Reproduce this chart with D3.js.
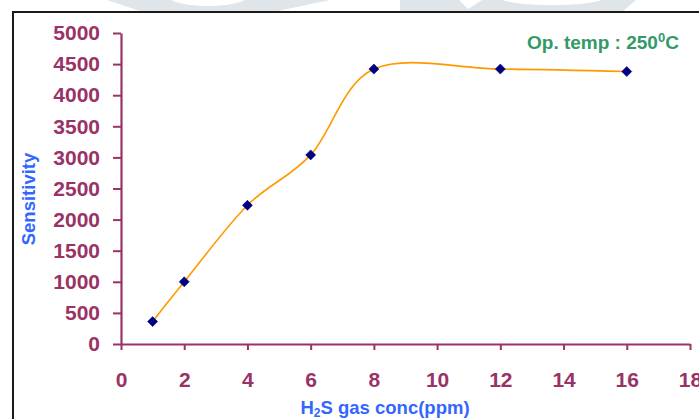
<!DOCTYPE html>
<html>
<head>
<meta charset="utf-8">
<script src="https://cdn.jsdelivr.net/npm/d3@7"></script>
<style>
  html, body { margin: 0; padding: 0; background: #fff; }
  svg { display: block; font-family: "Liberation Sans", Arial, sans-serif; }
</style>
</head>
<body>
<svg id="chart" width="699" height="419"></svg>
<script>
// Data
const concPpm = [1, 2, 4, 6, 8, 12, 16];
const sensitivity = [360, 1000, 2230, 3040, 4420, 4420, 4380];
const xTicks = [0, 2, 4, 6, 8, 10, 12, 14, 16, 18];
const yTicks = [0, 500, 1000, 1500, 2000, 2500, 3000, 3500, 4000, 4500, 5000];

const svg = d3.select("#chart");
const axisColor = "#993366";

// faint watermark at top
const wm = svg.append("g").attr("fill", "#dfe5e9");
wm.append("path").attr("d", "M107,0 L330,0 L273,12 L143,12 Z");
wm.append("ellipse").attr("cx", 208).attr("cy", -4).attr("rx", 40).attr("ry", 10).attr("fill", "#fff");
wm.append("path").attr("d", "M400,0 L636,0 L622,12 L400,12 Z");
wm.append("path").attr("d", "M459,0 L482,0 L468,9 Z").attr("fill", "#fff");
wm.append("ellipse").attr("cx", 552).attr("cy", -3).attr("rx", 54).attr("ry", 8).attr("fill", "#fff");

// outer frame
svg.append("rect")
  .attr("x", 13).attr("y", 12).attr("width", 720).attr("height", 430)
  .attr("fill", "#fff").attr("stroke", "#1a1a1a").attr("stroke-width", 2);

const x = d3.scaleLinear().domain([0, 18]).range([121, 690]);
const y = d3.scaleLinear().domain([0, 5000]).range([344, 33]);

// Y axis
const gy = svg.append("g").attr("transform", "translate(121,0)")
  .call(d3.axisLeft(y).tickValues(yTicks).tickFormat(d3.format("d"))
    .tickSize(8).tickSizeOuter(0).tickPadding(13));
// X axis
const gx = svg.append("g").attr("transform", "translate(0,344)")
  .call(d3.axisBottom(x).tickValues(xTicks).tickFormat(d3.format("d"))
    .tickSize(6).tickSizeOuter(0).tickPadding(22));

[gx, gy].forEach(g => {
  g.select(".domain").attr("stroke", axisColor).attr("stroke-width", 2.2);
  g.selectAll(".tick line").attr("stroke", axisColor).attr("stroke-width", 2);
  g.selectAll(".tick text")
    .attr("fill", axisColor)
    .attr("font-size", 21)
    .attr("font-weight", "bold")
    .attr("font-family", "'Liberation Sans', Arial, sans-serif");
});

// smoothed line (Excel-like smoothing)
const line = d3.line()
  .x((d, i) => x(concPpm[i]))
  .y(d => y(d))
  .curve(d3.curveCatmullRom.alpha(0));
svg.append("path")
  .datum(sensitivity)
  .attr("d", line)
  .attr("fill", "none")
  .attr("stroke", "#FF9900")
  .attr("stroke-width", 1.6);

// diamond markers
svg.append("g").selectAll("path")
  .data(sensitivity)
  .join("path")
  .attr("transform", (d, i) => `translate(${x(concPpm[i])},${y(d)})`)
  .attr("d", "M0,-5 L5,0 L0,5 L-5,0 Z")
  .attr("fill", "#000080")
  .attr("stroke", "#000080")
  .attr("stroke-width", 0.6);

// Axis titles
svg.append("text")
  .attr("transform", "translate(35,199) rotate(-90)")
  .attr("text-anchor", "middle")
  .attr("fill", "#3366FF")
  .attr("font-size", 18.5)
  .attr("font-weight", "bold")
  .text("Sensitivity");

const xt = svg.append("text")
  .attr("x", 385).attr("y", 414)
  .attr("text-anchor", "middle")
  .attr("fill", "#3366FF")
  .attr("font-size", 18.5)
  .attr("font-weight", "bold");
xt.append("tspan").text("H");
xt.append("tspan").attr("font-size", 12).attr("dy", 3).text("2");
xt.append("tspan").attr("dy", -3).text("S gas conc(ppm)");

// annotation
const ann = svg.append("text")
  .attr("x", 527).attr("y", 49)
  .attr("fill", "#339966")
  .attr("font-size", 19)
  .attr("font-weight", "bold");
ann.append("tspan").text("Op. temp : 250");
ann.append("tspan").attr("font-size", 13).attr("dy", -7).text("0");
ann.append("tspan").attr("dy", 7).text("C");
</script>
</body>
</html>
